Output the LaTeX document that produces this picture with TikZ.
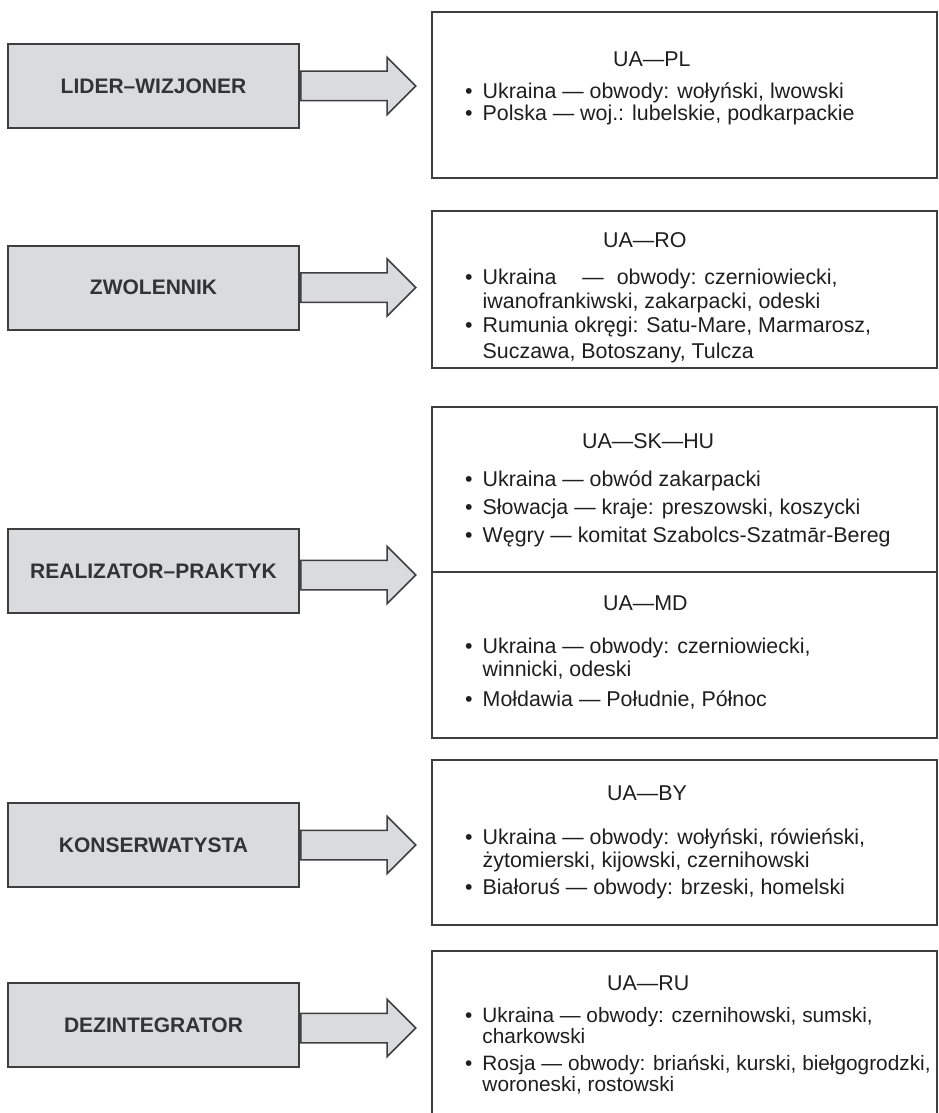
\documentclass[tikz,border=0pt]{standalone}
\usepackage{fontspec}
\setmainfont{Liberation Sans}
\usetikzlibrary{positioning,shapes.arrows}

\definecolor{ramka}{HTML}{3F3F3F}
\definecolor{szary}{HTML}{DADBDD}
\definecolor{tekst}{HTML}{1E1E1E}
\definecolor{etykieta}{HTML}{333333}

\newcommand{\punkty}[1]{\begin{tabular}[t]{@{}l@{\hspace{10pt}}l@{}}#1\end{tabular}}

\begin{document}
\begin{tikzpicture}[x=1pt, y=-1pt,
  rola/.style={draw=ramka, line width=2pt, fill=szary, minimum width=291pt, minimum height=84pt, inner sep=0pt, text=etykieta, font=\fontsize{21}{24}\selectfont\bfseries},
  region/.style={draw=ramka, line width=2pt, minimum width=505pt, inner sep=0pt},
  strzalka/.style={single arrow, draw=ramka, fill=szary, line width=1.5pt, inner xsep=0pt, inner ysep=14pt, single arrow head extend=14pt, single arrow tip angle=90, minimum height=115pt},
  tytul/.style={anchor=base west, inner sep=0pt, text=tekst, font=\fontsize{21.4}{24}\selectfont},
  lista/.style={anchor=base west, inner sep=0pt, text=tekst, font=\fontsize{21.4}{#1}\selectfont},
]
\useasboundingbox (0,0) rectangle (939,1113);

% typy regionow
\node[rola] (lider) at (153.5,86) {LIDER–WIZJONER};
\node[rola] (zwol) at (153.5,287.5) {ZWOLENNIK};
\node[rola] (real) at (153.5,571) {REALIZATOR–PRAKTYK};
\node[rola] (kons) at (153.5,845) {KONSERWATYSTA};
\node[rola] (dez) at (153.5,1025) {DEZINTEGRATOR};

\node[strzalka, right=0pt of lider] (s1) {};
\node[strzalka, right=0pt of zwol] (s2) {};
\node[strzalka, right=0pt of real, yshift=-4pt] (s3) {};
\node[strzalka, right=0pt of kons] (s4) {};
\node[strzalka, right=0pt of dez, yshift=-3pt] (s5) {};

% euroregiony
\node[region, minimum height=166pt] (pl) at (684.5,95) {};
\node[region, minimum height=157pt] (ro) at (684.5,289.5) {};
\node[region, minimum height=165pt] (skhu) at (684.5,489.5) {};
\node[region, minimum height=166pt] (md) at (684.5,655) {};
\node[region, minimum height=165pt] (by) at (684.5,842.5) {};
\node[minimum width=505pt, minimum height=162pt, inner sep=0pt] (ru) at (684.5,1032) {};
\draw[draw=ramka, line width=2pt] (ru.south west) -- (ru.north west) -- (ru.north east) -- (ru.south east);

\node[tytul] (pltyt) at (613,67) {UA—PL};
\node[lista=20] (pllis) at (465,99) {\punkty{\textbullet & Ukraina — obwody: wołyński, lwowski\\
  \textbullet & Polska — woj.: lubelskie, podkarpackie}};

\node[tytul] (rotyt) at (603,247) {UA—RO};
\node[lista=24] (rolis) at (465,284) {\punkty{\textbullet & Ukraina\hspace{26pt}—\hspace{13pt}obwody: czerniowiecki,\\
  & iwanofrankiwski, zakarpacki, odeski\\
  \textbullet & Rumunia okręgi: Satu-Mare, Marmarosz,\\[2pt]
  & Suczawa, Botoszany, Tulcza}};

\node[tytul] (skhutyt) at (582,448) {UA—SK—HU};
\node[lista=28] (skhulis) at (465,486) {\punkty{\textbullet & Ukraina — obwód zakarpacki\\
  \textbullet & Słowacja — kraje: preszowski, koszycki\\
  \textbullet & Węgry — komitat Szabolcs-Szatmār-Bereg}};

\node[tytul] (mdtyt) at (603,610) {UA—MD};
\node[lista=23] (mdlis) at (465,653) {\punkty{\textbullet & Ukraina — obwody: czerniowiecki,\\
  & winnicki, odeski\\[7pt]
  \textbullet & Mołdawia — Południe, Północ}};

\node[tytul] (bytyt) at (607,800) {UA—BY};
\node[lista=23] (bylis) at (465,844) {\punkty{\textbullet & Ukraina — obwody: wołyński, rówieński,\\
  & żytomierski, kijowski, czernihowski\\[4pt]
  \textbullet & Białoruś — obwody: brzeski, homelski}};

\node[tytul] (rutyt) at (607,990) {UA—RU};
\node[lista=20, font=\fontsize{20.8}{20}\selectfont] (rulis) at (465,1022) {\punkty{\textbullet & Ukraina — obwody: czernihowski, sumski,\\
  & charkowski\\[6pt]
  \textbullet & Rosja — obwody: briański, kurski, biełgogrodzki,\\
  & woroneski, rostowski}};

\end{tikzpicture}
\end{document}
